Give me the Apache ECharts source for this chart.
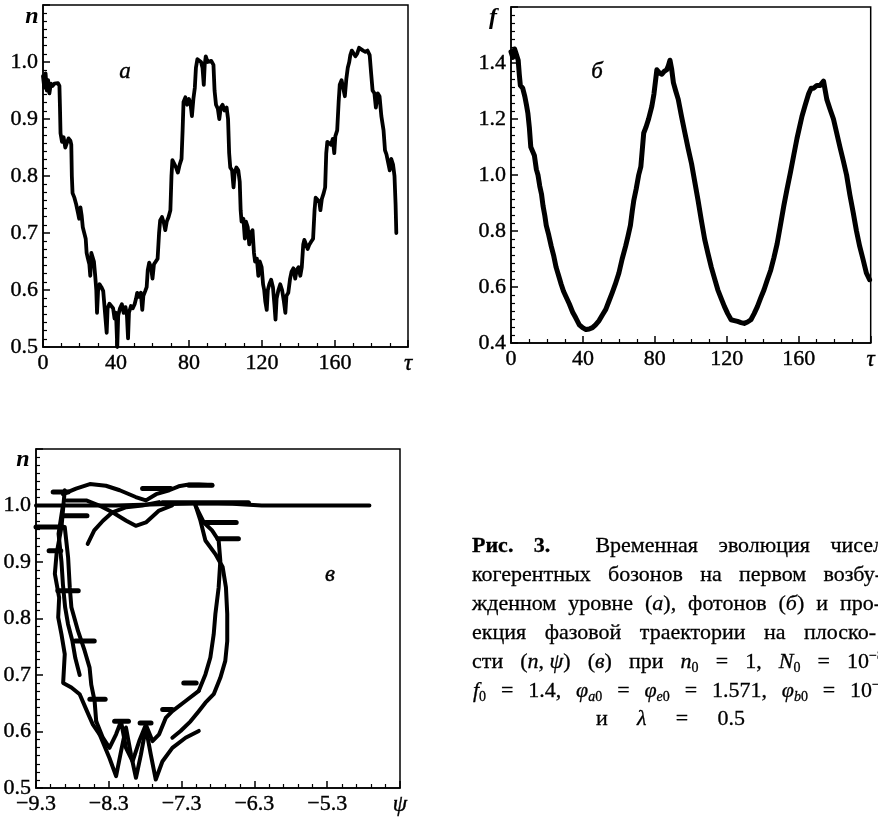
<!DOCTYPE html>
<html>
<head>
<meta charset="utf-8">
<script src="https://cdn.jsdelivr.net/npm/echarts@6.0.0/dist/echarts.min.js"></script>
<style>
  html, body { margin: 0; background: #fff; }
  #chart { width: 878px; height: 820px; }
</style>
</head>
<body>
<div id="chart"></div>
<script>
// panel а: n(τ)
var curveA = [
  [0,0.975],[0.7,0.955],[1.4,0.98],[2.1,0.95],[2.8,0.968],[3.5,0.945],[4.3,0.962],[5.2,0.958],[6.2,0.962],[7.2,0.96],[8.2,0.963],[9.0,0.958],
  [9.3,0.92],[9.6,0.875],[10.4,0.86],[11.3,0.868],[12.2,0.85],[13.1,0.858],[14,0.866],[15,0.862],[15.5,0.855],
  [15.8,0.8],[16.2,0.77],[17.2,0.762],[18.2,0.75],[19.2,0.735],[19.8,0.725],[20.5,0.745],[21.2,0.73],[21.8,0.71],[22.6,0.7],[23.4,0.69],
  [23.9,0.665],[24.6,0.655],[25.4,0.645],[25.9,0.625],[26.5,0.665],[27.2,0.668],[27.9,0.65],[28.6,0.625],
  [29.2,0.6],[29.6,0.56],[30.2,0.6],[31,0.61],[32,0.605],[33,0.598],[33.6,0.575],[34.4,0.572],[34.9,0.525],[35.4,0.568],[36.4,0.576],[37.4,0.575],[38.4,0.568],[39.2,0.55],[40,0.56],[40.7,0.5],[41.2,0.555],[42.2,0.568],[43.2,0.575],[44.2,0.56],[45.2,0.57],[46,0.555],[46.6,0.515],[47.1,0.56],[48.2,0.572],[49.2,0.568],[50.2,0.575],
  [51,0.585],[51.6,0.595],[52.6,0.588],[53.6,0.595],[54.4,0.565],[55,0.59],[56,0.598],[56.8,0.605],
  [57.4,0.635],[58.2,0.648],[59.2,0.64],[60,0.62],[60.8,0.645],[61.8,0.65],[62.8,0.655],
  [63.6,0.7],[64.2,0.722],[65.2,0.728],[66.2,0.718],[67,0.705],[67.8,0.72],[68.8,0.728],[69.8,0.74],
  [70.4,0.8],[70.9,0.828],[71.9,0.825],[72.9,0.815],[73.9,0.806],[74.9,0.82],[75.9,0.83],
  [76.5,0.88],[77,0.93],[78,0.938],[79,0.925],[80,0.935],[80.8,0.928],[81.6,0.905],[82.4,0.935],[83.2,0.955],
  [83.8,0.99],[84.6,1.005],[85.6,1.005],[86.6,1.0],[87.4,0.99],[88.1,0.96],[88.6,0.995],[89.2,1.01],[90.2,1.0],[91.2,1.0],[92.2,1.002],[93.4,0.995],
  [94,0.95],[94.8,0.925],[95.8,0.918],[96.6,0.9],[97.4,0.92],[98.4,0.925],[99.4,0.915],[100.6,0.92],[101.4,0.9],
  [102,0.84],[102.6,0.815],[103.6,0.81],[104.4,0.78],[105,0.805],[106,0.815],[107,0.81],[107.8,0.79],
  [108.3,0.74],[108.8,0.72],[109.8,0.725],[110.6,0.69],[111.2,0.72],[112.2,0.71],[113,0.68],[113.8,0.7],[114.8,0.705],
  [115.6,0.665],[116.2,0.65],[117.2,0.655],[118,0.625],[118.8,0.65],[119.8,0.64],[120.6,0.61],
  [121.2,0.6],[121.8,0.58],[122.6,0.565],[123.2,0.6],[124,0.61],[125,0.618],[126,0.605],[126.8,0.575],[127.4,0.548],[128,0.585],[129,0.6],[130,0.61],[131,0.6],[132,0.58],[132.8,0.56],[133.4,0.59],[134.4,0.595],
  [135.4,0.62],[136.2,0.632],[137.2,0.638],[138.2,0.62],[139,0.635],[140,0.64],[141,0.625],[141.8,0.64],
  [142.6,0.68],[143.2,0.688],[144.2,0.685],[145,0.672],[146,0.68],[147,0.685],[148,0.69],
  [148.8,0.74],[149.4,0.762],[150.4,0.765],[151.4,0.755],[152,0.74],[152.8,0.76],[153.8,0.77],[154.6,0.78],
  [155.2,0.84],[155.8,0.86],[156.8,0.862],[157.8,0.855],[158.8,0.865],[159.6,0.84],[160.2,0.87],[161.2,0.88],
  [162,0.93],[162.6,0.96],[163.6,0.968],[164.6,0.965],[165.4,0.94],[166.2,0.97],[167,0.99],[167.8,1.0],
  [168.4,1.012],[169.2,1.02],[170.2,1.022],[171.2,1.01],[172.2,1.015],[173.2,1.025],[174.2,1.022],[175.4,1.02],[176.6,1.018],[177.8,1.02],[179,1.012],
  [179.8,0.98],[180.6,0.95],[181.6,0.945],[182.4,0.92],[183.4,0.945],[184.4,0.94],[185.4,0.905],[186.6,0.88],
  [187.4,0.845],[188.2,0.838],[189.2,0.84],[190,0.81],[190.8,0.83],[191.8,0.82],[192.6,0.8],
  [193.2,0.75],[193.6,0.7]
];

// panel б: f(τ)
var curveB = [
  [0,1.44],[1,1.42],[2,1.45],[3,1.43],[4,1.41],[4.6,1.36],[5.2,1.32],[6.5,1.31],[7.7,1.28],[8.6,1.25],[9.4,1.22],[10.2,1.17],[11,1.1],[12,1.085],[13,1.07],
  [14.1,1.02],[15,1.0],[16,0.96],[17,0.93],[17.8,0.89],[18.8,0.855],[19.6,0.82],[21,0.785],[22.4,0.745],[23.8,0.71],[25.1,0.67],[26.5,0.64],[27.9,0.61],
  [29.2,0.585],[30.6,0.565],[32.4,0.54],[34.3,0.51],[36,0.49],[38,0.465],[39.8,0.455],[41.7,0.448],[43.5,0.45],[45.3,0.455],[47,0.465],[49,0.48],
  [50.8,0.5],[52.7,0.52],[54.5,0.55],[56.3,0.58],[58,0.61],[60,0.65],[61.8,0.7],[63.7,0.745],[65,0.78],[66.4,0.82],[67.4,0.87],[68.3,0.91],[69.6,0.95],
  [71,1.0],[72.2,1.03],[73.8,1.15],[75,1.17],[76.5,1.2],[78.3,1.245],[79.5,1.29],[81.1,1.376],[82.5,1.365],[83.9,1.36],[85.2,1.37],[86.6,1.376],
  [87.5,1.39],[88.4,1.41],[89.3,1.38],[90.3,1.33],[91.6,1.3],[93,1.27],[94.8,1.21],[96.7,1.15],[98.5,1.095],[100.4,1.04],[102.2,0.975],[104,0.91],
  [105.8,0.84],[107.7,0.77],[109.5,0.72],[111.4,0.67],[113.2,0.63],[115,0.59],[116.8,0.56],[118.7,0.53],[120.5,0.505],[122.4,0.483],[124.2,0.48],
  [126,0.477],[127.9,0.473],[129.7,0.47],[131.5,0.475],[133.4,0.483],[135.2,0.505],[137,0.53],[138.8,0.56],[140.7,0.59],[142.5,0.625],[144.4,0.66],
  [146.2,0.705],[148,0.755],[149.8,0.82],[151.7,0.89],[153.5,0.95],[155.4,1.01],[157.2,1.07],[159,1.13],[160.4,1.17],[161.8,1.21],[163.6,1.25],
  [165.5,1.29],[166.9,1.31],[168.3,1.31],[170.1,1.32],[171.9,1.32],[173.8,1.335],[175.6,1.27],[177.4,1.235],[179.3,1.2],[181.1,1.15],[182.9,1.1],
  [184.8,1.05],[186.6,1.0],[188.4,0.93],[190.3,0.865],[192.1,0.8],[193.9,0.745],[195.7,0.7],[197.6,0.65],[199.4,0.626]
];

// panel в: phase trajectory pieces, [ψ, n]
var phaseFlat = [[-9.3,1.0],[-8.2,1.0],[-7.6,1.002],[-7.0,1.004],[-6.6,1.003],[-6.2,1.0],[-5.4,1.0],[-4.72,1.0]];
var phaseUpper = [[-8.93,1.02],[-8.75,1.03],[-8.56,1.038],[-8.34,1.035],[-8.15,1.027],[-7.93,1.015],[-7.79,1.009],[-7.65,1.02],[-7.47,1.027],[-7.34,1.034],[-7.2,1.037],[-7.06,1.037],[-6.88,1.036]];
var phaseArc1 = [[-8.88,1.009],[-8.61,1.009],[-8.43,1.0],[-8.25,0.988],[-8.06,0.973],[-7.93,0.964],[-7.79,0.97],[-7.61,0.991],[-7.43,1.0]];
var phaseArc2 = [[-8.59,0.932],[-8.5,0.956],[-8.38,0.973],[-8.25,0.988],[-8.06,0.997],[-7.84,1.0],[-7.61,1.006]];
var phaseLeftOuter = [[-8.905,1.027],[-8.95,0.962],[-9.018,0.914],[-9.041,0.879],[-8.982,0.837],[-8.995,0.802],[-8.95,0.772],[-8.905,0.737],[-8.927,0.686],[-8.814,0.678],[-8.7,0.666],[-8.6,0.636],[-8.518,0.612],[-8.427,0.595]];
var phaseLeftMid = [[-8.93,1.0],[-8.99,0.95],[-8.95,0.9],[-8.93,0.86],[-8.9,0.82],[-8.86,0.79],[-8.8,0.76],[-8.76,0.73],[-8.7,0.7]];
var phaseLeftInner = [[-8.905,0.962],[-8.859,0.908],[-8.836,0.855],[-8.814,0.82],[-8.723,0.778],[-8.632,0.743],[-8.564,0.713],[-8.541,0.683],[-8.495,0.654],[-8.473,0.618]];
var phaseBottomLower = [[-8.427,0.595],[-8.291,0.553],[-8.2,0.521],[-8.132,0.565],[-8.064,0.607],[-7.995,0.559],[-7.927,0.518],[-7.859,0.559],[-7.791,0.607],[-7.723,0.559],[-7.655,0.515],[-7.564,0.547],[-7.427,0.571],[-7.245,0.589],[-7.064,0.601]];
var phaseBottomUpper = [[-8.473,0.618],[-8.382,0.589],[-8.291,0.571],[-8.2,0.595],[-8.132,0.618],[-8.064,0.571],[-7.973,0.547],[-7.882,0.583],[-7.791,0.612],[-7.7,0.583],[-7.609,0.595],[-7.518,0.624],[-7.427,0.636],[-7.245,0.654],[-7.064,0.672]];
var phaseRightInner = [[-7.064,0.672],[-6.973,0.701],[-6.905,0.731],[-6.859,0.772],[-6.836,0.808],[-6.791,0.855],[-6.768,0.902],[-6.791,0.938],[-6.882,0.956],[-6.995,0.97],[-7.064,0.988],[-7.109,1.0]];
var phaseRightOuter = [[-7.109,1.0],[-7.041,0.973],[-6.973,0.938],[-6.836,0.914],[-6.736,0.891],[-6.691,0.855],[-6.673,0.808],[-6.673,0.76],[-6.7,0.725],[-6.768,0.695],[-6.859,0.666],[-6.973,0.651],[-7.064,0.636],[-7.177,0.618],[-7.314,0.601],[-7.427,0.589]];
// short horizontal strokes on the trajectory: [ψ from, ψ to, n]
var phaseFlags = [
  [-9.3,-8.93,0.962],[-9.064,-8.86,1.024],[-8.92,-8.6,0.982],[-6.97,-6.55,0.97],[-6.8,-6.52,0.941],
  [-7.2,-6.882,1.036],[-7.836,-7.45,1.03],[-7.564,-6.382,1.005],[-9.0,-8.72,0.849],[-8.76,-8.5,0.76],
  [-8.56,-8.35,0.657],[-8.22,-8.03,0.618],[-7.87,-7.72,0.615],[-7.56,-7.43,0.639],[-7.27,-7.1,0.686],[-9.12,-8.96,0.92]
];

var tauMax = 200;
var psiStart = -9.3;

var serif = 'Liberation Serif';
var ink = '#000';

// caption lines: words are spread between left and right like the justified original
var captionLines = [
  { y: 546, left: 472, right: 884, gaps: [1, 2.2, 1, 1], words: ['{b|Рис.}', '{b|3.}', 'Временная', 'эволюция', 'чисел'] },
  { y: 575, left: 472, right: 882, words: ['когерентных', 'бозонов', 'на', 'первом', 'возбу-'] },
  { y: 604, left: 472, right: 881, words: ['жденном', 'уровне', '({i|а}),', 'фотонов', '({i|б})', 'и', 'про-'] },
  { y: 633, left: 472, right: 876, words: ['екция', 'фазовой', 'траектории', 'на', 'плоско-'] },
  { y: 662, left: 472, right: 884, words: ['сти', '({i|n}, {i|ψ})', '({i|в})', 'при', '{i|n}{s|0}', '=', '1,', '{i|N}{s|0}', '=', '10{p|−8}'] },
  { y: 691, left: 473, right: 887, words: ['{i|f}{s|0}', '=', '1.4,', '{i|φ}{si|a}{s|0}', '=', '{i|φ}{si|e}{s|0}', '=', '1.571,', '{i|φ}{si|b}{s|0}', '=', '10{p|−8}'] },
  { y: 719, left: 596, right: 745, words: ['и', '{i|λ}', '=', '0.5'] }
];

var capSize = 22, subSize = 14;
var capFonts = {
  '': capSize + 'px "' + serif + '"',
  b: 'bold ' + capSize + 'px "' + serif + '"',
  i: 'italic ' + capSize + 'px "' + serif + '"',
  s: subSize + 'px "' + serif + '"',
  si: 'italic ' + subSize + 'px "' + serif + '"',
  p: subSize + 'px "' + serif + '"'
};
var measureCtx = document.createElement('canvas').getContext('2d');
function richWidth(str) {
  var re = /\{(\w+)\|([^}]*)\}|([^{]+)/g, m, w = 0;
  while ((m = re.exec(str))) {
    measureCtx.font = m[3] !== undefined ? capFonts[''] : capFonts[m[1]];
    w += measureCtx.measureText(m[3] !== undefined ? m[3] : m[2]).width;
  }
  return w;
}

var chart = echarts.init(document.getElementById('chart'), null, { renderer: 'canvas' });

function xAxisOf(grid, min, max, interval, minorSplit, fmt) {
  return {
    type: 'value', gridIndex: grid, min: min, max: max, interval: interval,
    axisLine: { show: true, onZero: false, lineStyle: { color: '#000', width: 1.5 } },
    axisTick: { show: true, inside: true, length: 7, lineStyle: { color: '#000', width: 1.5 } },
    minorTick: { show: true, splitNumber: minorSplit, length: 4, lineStyle: { color: '#000', width: 1.2 } },
    splitLine: { show: false },
    axisLabel: {
      show: true, margin: 5, color: ink, fontFamily: serif, fontSize: 22,
      textBorderColor: ink, textBorderWidth: 0.4,
      showMinLabel: true, showMaxLabel: true, formatter: fmt,
      rich: { t: { fontFamily: serif, fontSize: 23, fontStyle: 'italic', color: ink } }
    }
  };
}
function yAxisOf(grid, min, max, interval, minorSplit, lastLabel) {
  return {
    type: 'value', gridIndex: grid, min: min, max: max, interval: interval,
    axisLine: { show: true, onZero: false, lineStyle: { color: '#000', width: 1.5 } },
    axisTick: { show: true, inside: true, length: 7, lineStyle: { color: '#000', width: 1.5 } },
    minorTick: { show: true, splitNumber: minorSplit, length: 4, lineStyle: { color: '#000', width: 1.2 } },
    splitLine: { show: false },
    axisLabel: {
      show: true, margin: 5, color: ink, fontFamily: serif, fontSize: 22,
      textBorderColor: ink, textBorderWidth: 0.4,
      formatter: function (v) { return v > lastLabel + 1e-6 ? '' : v.toFixed(1); }
    }
  };
}
function lineSeries(xi, data, width) {
  return {
    type: 'line', xAxisIndex: xi, yAxisIndex: xi, data: data,
    showSymbol: false, symbol: 'none', animation: false, silent: true,
    lineStyle: { color: '#000', width: width, join: 'round', cap: 'round' }
  };
}
function shiftPsi(list) {
  return list.map(function (p) { return [p[0] - psiStart, p[1]]; });
}

var series = [
  lineSeries(0, curveA, 3.8),
  lineSeries(1, curveB, 5)
];
[phaseFlat, phaseUpper, phaseArc1, phaseArc2, phaseLeftOuter, phaseLeftMid, phaseLeftInner,
 phaseBottomLower, phaseBottomUpper, phaseRightInner, phaseRightOuter].forEach(function (seg) {
  series.push(lineSeries(2, shiftPsi(seg), 4));
});
phaseFlags.forEach(function (f) {
  series.push(lineSeries(2, shiftPsi([[f[0], f[2]], [f[1], f[2]]]), 5));
});

var graphics = [];
function label(x, y, txt, size, extra) {
  graphics.push({
    type: 'text', x: x, y: y, z: 10,
    style: Object.assign({
      text: txt, fill: ink, fontFamily: serif, fontSize: size,
      fontStyle: 'italic', fontWeight: 'bold', align: 'center', verticalAlign: 'middle'
    }, extra || {})
  });
}
label(32, 17, 'n', 24);
label(493, 18, 'f', 24);
label(23, 460, 'n', 24);
label(125, 72, 'а', 23, { fontWeight: 'normal', stroke: ink, lineWidth: 0.4 });
label(597, 72, 'б', 23, { fontWeight: 'normal', stroke: ink, lineWidth: 0.4 });
label(330, 575, 'в', 23, { fontWeight: 'normal', stroke: ink, lineWidth: 0.4 });

var captionRich = {
  b: { fontFamily: serif, fontSize: capSize, fontWeight: 'bold', lineHeight: 26 },
  i: { fontFamily: serif, fontSize: capSize, fontStyle: 'italic', lineHeight: 26 },
  s: { fontFamily: serif, fontSize: subSize, lineHeight: 15, verticalAlign: 'bottom' },
  si: { fontFamily: serif, fontSize: subSize, fontStyle: 'italic', lineHeight: 15, verticalAlign: 'bottom' },
  p: { fontFamily: serif, fontSize: subSize, lineHeight: 15, verticalAlign: 'top' }
};
captionLines.forEach(function (line) {
  var widths = line.words.map(richWidth);
  var total = widths.reduce(function (a, b) { return a + b; }, 0);
  var weights = line.gaps || line.words.slice(1).map(function () { return 1; });
  var wsum = weights.reduce(function (a, b) { return a + b; }, 0);
  var unit = (line.right - line.left - total) / wsum;
  var x = line.left;
  line.words.forEach(function (w, k) {
    graphics.push({
      type: 'text', x: x, y: line.y, z: 10,
      style: {
        text: w, fill: ink, fontFamily: serif, fontSize: capSize, lineHeight: 26,
        stroke: ink, lineWidth: 0.3,
        align: 'left', verticalAlign: 'middle', rich: captionRich
      }
    });
    x += widths[k] + (k < weights.length ? weights[k] * unit : 0);
  });
});

var option = {
  backgroundColor: '#fff',
  animation: false,
  grid: [
    { left: 43, top: 5, width: 365, height: 342, show: true, borderColor: '#000', borderWidth: 1.5 },
    { left: 511, top: 7, width: 364, height: 336, show: true, borderColor: '#000', borderWidth: 1.5 },
    { left: 36, top: 449, width: 364, height: 339, show: true, borderColor: '#000', borderWidth: 1.5 }
  ],
  xAxis: [
    xAxisOf(0, 0, tauMax, 40, 4, function (v) { return v === tauMax ? '{t|τ}' : String(v); }),
    xAxisOf(1, 0, tauMax, 40, 4, function (v) { return v === tauMax ? '{t|τ}' : String(v); }),
    xAxisOf(2, 0, 5, 1, 5, function (v) { return v === 5 ? '{t|ψ}' : '−' + (-(psiStart + v)).toFixed(1); })
  ],
  yAxis: [
    yAxisOf(0, 0.5, 1.1, 0.1, 7, 1.0),
    yAxisOf(1, 0.4, 1.6, 0.2, 7, 1.4),
    yAxisOf(2, 0.5, 1.1, 0.1, 7, 1.0)
  ],
  series: series,
  graphic: graphics
};

chart.setOption(option);
</script>
</body>
</html>
